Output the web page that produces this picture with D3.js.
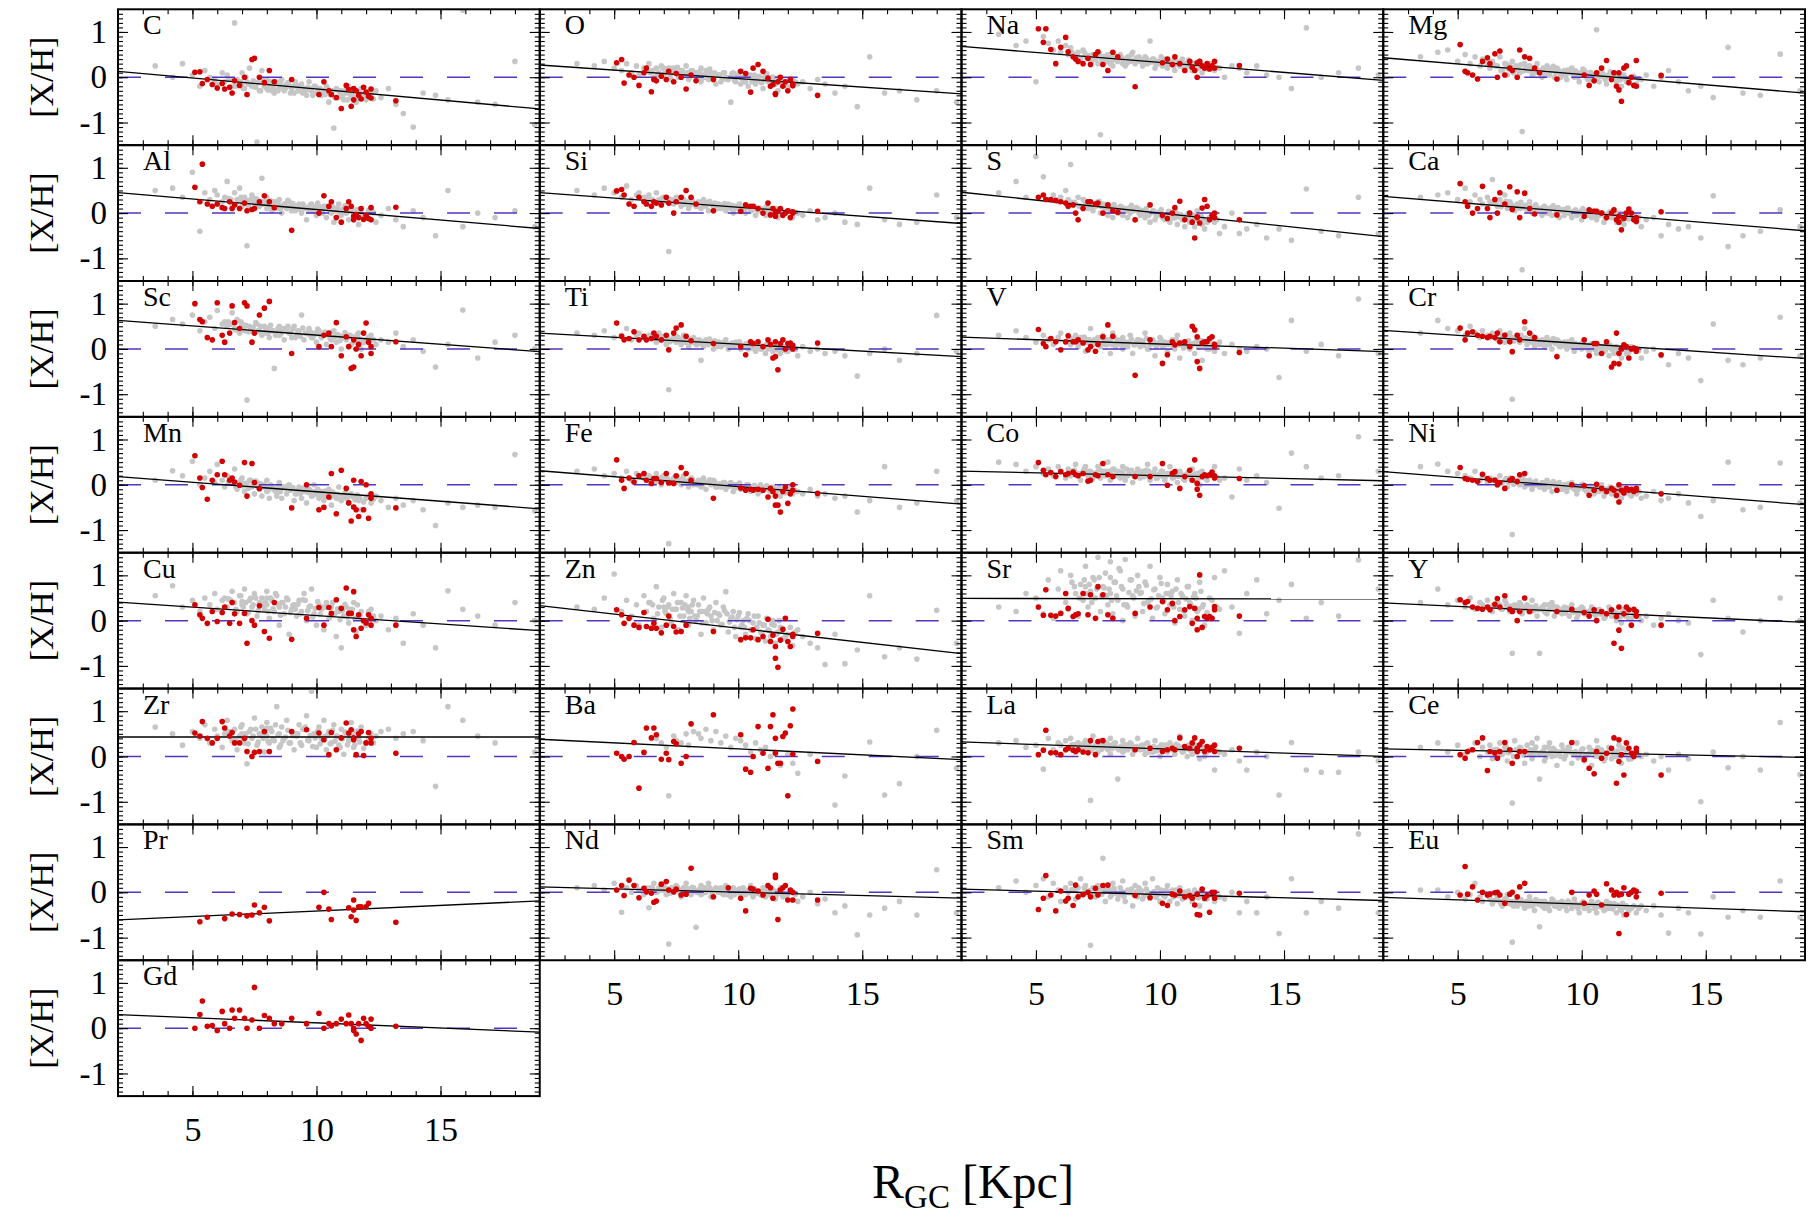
<!DOCTYPE html>
<html>
<head>
<meta charset="utf-8">
<script src="https://cdn.jsdelivr.net/npm/d3@7"></script>
<style>
  body { margin: 0; background: #fff; }
  svg text { font-family: "Liberation Serif", "Times New Roman", serif; fill: #000; }
</style>
</head>
<body>
<svg id="drawing_region"></svg>
<script>
// ---- data ---------------------------------------------------------------
const ELEMENTS = ["C","O","Na","Mg","Al","Si","S","Ca","Sc","Ti","V","Cr","Mn","Fe","Co","Ni",
                  "Cu","Zn","Sr","Y","Zr","Ba","La","Ce","Pr","Nd","Sm","Eu","Gd"];

// linear gradient fit:  [X/H] = INTERCEPT + SLOPE * R_GC
const SLOPE = [-0.0488,-0.0376,-0.0441,-0.0459,-0.0465,-0.0400,-0.0576,-0.0447,-0.0406,-0.0306,
               -0.0188,-0.0365,-0.0418,-0.0435,-0.0124,-0.0429,-0.0371,-0.0624,-0.0006,-0.0253,
               0.0000,-0.0265,-0.0188,-0.0112,0.0247,-0.0147,-0.0147,-0.0188,-0.0229];
const INTERCEPT = [0.228,0.345,0.768,0.522,0.543,0.530,0.575,0.459,0.711,0.411,
                   0.298,0.483,0.264,0.397,0.325,0.376,0.484,0.455,0.491,0.441,
                   0.430,0.433,0.358,0.192,-0.659,0.149,0.099,-0.072,0.346];

const X_TICKS = [5, 10, 15];
const Y_TICKS = [-1, 0, 1];

// literature sample (grey), galactocentric radius in kpc
const GRAY_R = [3.5,4.2,4.6,5.0,5.3,5.5,5.7,5.9,6.0,6.2,
  6.3,6.4,6.6,6.7,6.8,6.9,7.0,7.1,7.2,7.3,
  7.4,7.5,7.6,7.7,7.8,7.9,8.0,8.0,8.1,8.2,
  8.3,8.4,8.5,8.5,8.6,8.7,8.8,8.9,9.0,9.1,
  9.2,9.3,9.4,9.5,9.6,9.7,9.8,9.9,10.0,10.1,
  10.2,10.3,10.4,10.5,10.6,10.7,10.8,10.9,11.0,11.1,
  11.2,11.3,11.4,11.5,11.6,11.7,11.8,12.0,12.2,12.4,
  12.6,12.9,13.2,13.5,13.9,14.3,14.8,15.3,15.9,16.5,
  17.2,18.0,18.8,7.35,7.85,8.35,8.65,9.15,9.55,10.25];

// literature sample, densely populated core of the disc
const CORE_R = [6.55,6.75,6.95,7.05,7.15,7.25,7.45,7.55,7.65,7.75,
  7.95,8.05,8.15,8.25,8.45,8.55,8.75,8.85,8.95,9.05,
  9.25,9.35,9.45,9.65,9.75,9.85,9.95,10.05,10.15,10.35,
  10.45,10.55,10.65,10.75,10.85,10.95,11.05,11.15,11.25,11.35,
  11.45,11.55,11.65,11.75,11.9,12.1,12.3,6.45,7.0,8.0];

// this work (red), galactocentric radius in kpc
const RED_R = [5.1,5.3,5.4,5.6,5.8,6.0,6.2,6.3,6.5,6.6,6.7,
  6.9,7.1,7.2,7.4,7.5,7.7,7.9,8.1,8.3,8.6,9.0,
  9.6,10.1,10.3,10.5,10.6,10.8,11.0,11.2,11.3,11.4,11.5,
  11.5,11.6,11.7,11.8,11.9,12.0,12.1,12.2,12.2,12.9,13.2];

const grayC = [0.25,0,0.3,0.05,-0.2,0.15,0,-0.05,-0.15,0.1,
  -0.1,0.05,-0.2,1.2,-0.05,-0.15,0.1,-0.25,-0.1,0.2,
  -0.2,-0.1,-1.43,-0.3,0.15,-0.2,-0.25,-0.05,-0.15,-0.3,
  -0.35,-0.1,-0.2,-0.25,-0.05,-0.3,-0.15,-0.2,-0.25,-0.35,
  -0.2,-0.3,-0.15,-0.25,-0.4,-0.1,-0.3,-0.2,-0.35,-0.25,
  -0.4,-0.3,-0.2,-0.55,-0.35,-1.12,-0.25,-0.45,-0.3,-0.5,
  -0.35,-0.2,-0.45,-0.3,-0.55,-0.4,-0.25,-0.5,-0.35,-0.3,
  -0.45,-0.25,-0.6,-0.8,-1.1,-0.35,-0.4,-0.5,1.48,-0.55,
  -0.6,0.35,-1.05,-0.15,-0.05,-0.3,-0.2,-0.1,-0.3,-0.35];
const grayO = [0.3,0.25,0.35,0.2,0.15,0.3,0.1,0.25,0.05,0.2,
  0.15,0.3,0,0.2,0.1,0.25,0.05,0.15,0.2,-0.05,
  0.1,0.2,0,0.15,0.05,0.25,0.1,-0.05,0.15,0.05,
  0.1,0,0.2,-0.1,0.05,0.15,-0.05,0.1,0,-0.15,
  0.05,-0.1,0.1,0,-0.05,-0.55,0.1,-0.1,0.05,-0.15,
  0,-0.1,-0.2,0.05,-0.05,-0.15,0,-0.1,-0.25,0.05,
  -0.1,-0.2,0,-0.15,-0.3,-0.05,-0.1,-0.2,-0.05,-0.15,
  -0.1,-0.25,-0.05,-0.15,-0.35,-0.2,-0.65,0.45,-0.35,-0.3,
  -0.5,-0.3,-0.55,0.2,0.05,0.1,0,0.05,-0.05,-0.1];
const grayNa = [0.95,0.7,0.8,-0.1,0.9,0.75,0.6,0.8,0.55,0.7,
  0.5,0.65,0.45,0.55,0.4,0.6,0.5,0.45,0.35,0.5,
  0.4,0.3,-1.27,0.45,0.35,0.5,0.3,0.45,0.25,0.4,
  0.35,0.5,0.3,0.4,0.25,0.45,0.35,0.55,0.3,0.4,
  0.35,0.25,0.45,0.3,0.8,0.4,0.2,0.35,0.3,0.25,
  0.4,0.2,0.3,0.35,0.15,0.3,0.25,0.4,0.2,0.3,
  0.25,0.15,0.3,0.2,0.35,0.1,0.25,0.3,0.15,0.2,
  0,0.25,0.2,0.1,0.25,0.05,0,-0.25,1.09,0,
  0.1,0.2,0.05,0.45,0.35,0.4,0.3,0.45,0.35,0.3];
const grayMg = [0.45,0.55,0.6,0.35,0.5,0.3,0.45,0.25,0.4,0.3,
  0.2,0.35,0.25,0.45,0.15,0.3,0.05,0.25,0.35,0.15,
  0.2,0.1,-1.2,0.3,0.15,0.25,0.05,0.2,0.1,0.3,
  0.15,0,0.2,0.1,0.25,0.05,0.15,0,0.2,0.1,
  0.05,0.15,-0.05,0.1,0.2,0,0.1,-0.1,0.05,0.15,
  0,0.1,-0.05,0.05,1.05,-0.1,0.1,0,-0.15,0.05,
  -0.05,0.1,-0.1,0,-0.2,0.05,-0.1,0,-0.15,-0.05,
  0.05,-0.2,0,0.15,-0.1,-0.3,-0.2,-0.45,0.66,-0.35,
  -0.4,0.51,-0.3,0.25,0.15,0.1,0.2,0,0.1,-0.05];
const grayAl = [0.5,0.55,0.35,0.9,-0.4,0.45,0.3,0.5,0.4,0.25,
  0.35,0.7,0.2,0.45,0.3,0.55,0.15,0.35,-0.72,0.25,
  0.4,0.2,0.3,0.15,0.77,0.25,0.1,0.35,0.2,0.05,
  0.25,0.1,0.3,0.15,0,0.2,0.1,0.25,0.05,0.15,
  0.1,0.2,0,0.15,-0.15,0.05,0.2,0.1,-0.05,0.15,
  0.05,0.15,-0.1,0.1,0,-0.2,0.05,0.2,-0.05,0.1,
  0,-0.15,0.1,-0.05,0.05,-0.25,0,-0.1,0.05,-0.2,
  -0.05,0.1,-0.15,-0.3,0.05,-0.1,-0.5,0.5,-0.3,0,
  -0.1,0.05,-0.3,0.3,0.2,0.25,0.15,0.05,0.1,0];
const graySi = [0.5,0.4,0.55,0.45,0.35,0.6,0.3,0.4,0.45,0.35,
  0.3,0.4,0.25,0.45,0.3,0.2,0.35,0.25,-0.85,0.3,
  0.2,0.35,0.25,0.15,0.3,0.2,0.25,0.1,0.3,0.2,
  0.15,0.25,0.1,0.2,0.3,0.15,0.05,0.2,0.15,0.1,
  0.2,0.1,0.15,0.05,0.2,0.1,0,0.15,0.1,0.05,
  0.1,0,0.15,0.05,0.1,-0.05,0.05,0.1,0,-0.05,
  0.05,-0.05,0,0.1,-0.1,0,-0.05,0.05,-0.1,0,
  -0.05,0.05,-0.15,-0.1,0,-0.2,-0.25,0.55,-0.15,-0.25,
  -0.2,0.4,-0.1,0.25,0.2,0.15,0.25,0.1,0.15,0.05];
const grayS = [0.45,0.7,0.35,1.25,0.8,0.3,0.4,0.25,0.35,0.5,
  0.3,1.07,0.2,0.35,0.15,0.3,0.25,0.1,0.2,0.05,
  0.15,0.25,0,0.2,0.1,-0.05,0.15,0.05,-0.1,0.1,
  0,0.15,-0.05,0.05,0.1,-0.1,0,0.05,-0.15,0.1,
  -0.05,0.05,-0.1,0,-0.2,0.05,-0.15,-0.05,0,-0.1,
  -0.15,-0.05,-0.2,0,-0.1,-0.25,-0.05,-0.15,-0.3,-0.1,
  -0.2,-0.1,-0.3,0.05,-0.15,-0.25,-0.35,-0.1,-0.2,-0.45,
  -0.3,0,-0.45,-0.35,-0.25,-0.55,-0.35,-0.6,0.53,-0.4,
  -0.5,0.35,-0.45,0.2,0.1,0,0.05,0,-0.05,-0.1];
const grayCa = [0.35,0.4,0.45,0.3,0.55,0.25,0.4,0.3,0.2,0.35,
  0.25,0.74,0.15,0.3,0.2,0.4,0.1,0.25,0.15,0.05,
  0.2,0.1,-1.25,0.15,0.05,0.25,0.1,0,0.15,0.05,
  0.1,-0.05,0.15,0,0.1,0.05,-0.05,0.1,0,-0.1,
  0.05,-0.05,0.1,0,-0.1,0.05,-0.05,0,-0.15,0.05,
  -0.05,0,-0.1,0.05,-0.15,-0.05,0,-0.2,-0.1,0,
  -0.1,-0.05,-0.2,0,-0.15,-0.25,-0.1,-0.05,-0.2,-0.3,
  -0.15,-0.1,-0.5,-0.25,-0.35,-0.3,-0.55,0.38,-0.74,-0.5,
  -0.4,0.07,-0.3,0.15,0.1,0.05,0,0.05,0,-0.05];
const graySc = [0.5,0.65,0.55,0.75,0.4,0.6,0.7,0.45,0.85,0.55,
  0.6,0.5,0.8,0.45,0.65,0.35,0.55,0.4,-1.13,0.5,
  0.45,0.35,0.55,0.4,0.3,0.5,0.35,0.45,0.25,0.4,
  -0.43,0.35,0.5,0.3,0.4,0.2,0.45,0.35,0.25,0.5,
  0.3,0.4,0.75,0.2,0.35,0.45,0.25,0.3,0.15,0.4,
  0.25,0.35,0.1,0.3,0.2,0.4,0.15,0.3,0,0.25,
  0.2,0.3,0.1,0.25,0.15,0.35,0,0.2,0.3,0.1,
  0.2,0.15,0.35,0.05,0.2,-0.05,-0.4,0.1,0.86,-0.2,
  0.15,0.3,0,0.4,0.35,0.3,0.45,0.25,0.35,0.3];
const grayTi = [0.35,0.3,0.4,0.25,0.3,0.45,0.2,0.3,0.35,0.25,
  0.2,0.3,0.25,0.15,0.35,0.2,0.25,0.1,-0.9,0.2,
  0.25,0.15,0.2,0.1,0.3,0.15,0.2,0.05,0.15,0.25,
  0.1,0.2,-0.25,0.15,0.05,0.2,0.1,0.15,0,0.1,
  0.15,0.05,0.1,0.2,0,0.1,0.05,0.15,0.1,0,
  0.05,0.1,0,0.15,0.05,-0.05,0.1,0,0.05,-0.1,
  0,0.05,-0.05,0.1,0,-0.1,0.05,-0.05,0,-0.15,
  0.05,-0.05,0,-0.1,-0.05,-0.15,-0.6,-0.1,0,-0.25,
  -0.1,0.74,-0.05,0.2,0.15,0.1,0.15,0.05,0.1,0.05];
const grayV = [0.3,0.4,0.25,0.15,0.3,0.2,0.1,0.25,0.35,0.15,
  0.2,0.1,0.3,0.05,0.25,0.15,-0.05,0.2,0.45,0.1,
  0.15,0.25,0.05,0.3,0.1,0.2,-0.1,0.15,0.35,0.05,
  0.2,0.1,0,0.25,0.15,0.05,0.3,-0.1,0.1,0.2,
  0.05,0.15,0.35,0,0.1,0.2,-0.15,0.1,0.25,0.05,
  0.15,-0.05,0.1,0.2,0,0.3,-0.2,0.1,0.05,0.15,
  0,0.1,-0.1,0.2,0.05,-0.25,0.1,0,-0.05,0.15,
  -0.1,0.1,0,-0.05,0.05,0,-0.63,0.63,-0.05,0.1,
  -0.15,1.1,-0.1,0.2,0.1,0.15,0.05,0.2,0,0.1];
const grayCr = [0.35,0.63,0.45,0.4,0.3,0.5,0.35,0.25,0.4,0.3,
  0.25,0.35,0.2,0.4,0.3,0.15,0.25,0.35,-1.11,0.2,
  0.3,0.15,0.25,0.45,0.1,0.2,0.3,0.15,0.05,0.2,
  0.1,0.2,0.15,0.05,0.25,0.1,0,0.15,0.2,0.05,
  0.1,0.15,0,0.05,0.2,-0.05,0.1,0.05,0,0.15,
  0.05,-0.05,0.1,0,-0.1,0.05,0,-0.05,0.1,-0.15,
  0,-0.1,0.05,-0.05,-0.2,0,-0.1,0.05,-0.05,-0.2,
  -0.05,0,-0.15,-0.35,-0.1,-0.2,-0.7,0.55,-0.25,-0.35,
  -0.2,0.7,-0.15,0.25,0.2,0.15,0.1,0.05,0.1,0];
const grayMn = [0.1,0.31,0.2,0.52,0,0.15,0.3,0.05,0.45,0.1,
  -0.05,0.2,0.1,0.35,-0.1,0.05,0.15,-0.15,0,0.1,
  -0.05,-0.2,0.05,-0.1,-0.25,0,-0.15,0.1,-0.3,-0.05,
  -0.1,-0.25,0.05,-0.15,-0.3,-0.05,-0.2,0,-0.1,-0.35,
  -0.2,-0.05,-0.3,-0.15,-0.4,-0.1,-0.25,0,-0.2,-0.3,
  -0.15,-0.35,-0.25,-0.1,-0.45,-0.2,-0.3,-0.05,-0.35,-0.25,
  -0.3,-0.4,-0.2,-0.5,-0.25,-0.35,-0.55,-0.3,-0.4,-0.25,
  -0.35,-0.5,-0.3,-0.45,-0.35,-0.55,-0.9,-0.4,-0.5,-0.45,
  -0.5,0.67,-0.58,0.1,-0.05,-0.15,-0.05,-0.2,-0.1,-0.25];
const grayFe = [0.3,0.35,0.2,0.25,0.15,0.3,0.1,0.25,0.2,0.15,
  0.1,0.2,0.05,0.25,0.15,0,0.2,0.1,-1.3,0.05,
  0.15,0.05,0.1,0,0.2,0.05,0.1,-0.05,0.15,0,
  0.05,0.1,-0.05,0,0.15,-0.1,0.05,0,0.1,-0.05,
  0,-0.05,0.05,-0.1,0,0.05,-0.15,0,-0.05,-0.1,
  -0.05,-0.1,0,-0.15,-0.05,-0.1,-0.2,0,-0.1,-0.05,
  -0.1,-0.15,-0.05,-0.2,-0.1,-0.25,-0.15,-0.1,-0.2,-0.15,
  -0.2,-0.1,-0.25,-0.2,-0.3,-0.25,-0.6,-0.35,0.4,-0.5,
  -0.4,0.3,-0.35,0.1,0.05,0,0.05,-0.05,0,-0.05];
const grayCo = [0.5,0.45,0.3,0.4,0.25,0.35,0.2,0.4,0.3,0.15,
  0.35,0.2,0.45,0.25,0.1,0.3,0.4,0.2,0.3,0.15,
  0.25,0.4,0.15,0.3,0.2,0.5,0.1,0.25,0.35,0.2,
  0.3,0.15,0.25,0.4,0.1,0.2,0.3,0.05,0.25,0.35,
  0.15,0.3,0.2,0.45,0.1,0.25,0.35,0.15,0.2,0.3,
  0.1,0.25,0.4,0.15,0.2,0.05,0.3,0.2,0.1,0.25,
  0.2,0.35,0.1,0.25,0,0.3,0.15,0.2,0.4,0.1,
  0.15,-0.27,0.35,0.1,0.2,0.05,-0.52,0.7,0.4,0.15,
  0.2,1.06,0.3,0.25,0.3,0.2,0.35,0.25,0.3,0.2];
const grayNi = [0.4,0.46,0.3,0.25,0.2,0.15,0.3,0.1,0.2,0.05,
  0.15,0.1,0,0.2,0.05,0.1,-0.05,0.15,-1.1,0.05,
  0.1,0,0.15,-0.05,0.05,0.1,0,-0.1,0.05,0,
  -0.05,0.05,-0.1,0,0.1,-0.05,-0.15,0,-0.05,0.05,
  -0.1,0,-0.15,-0.05,0.05,-0.1,-0.2,-0.05,0,-0.1,
  -0.15,-0.05,-0.1,-0.2,-0.05,-0.15,0,-0.25,-0.1,-0.15,
  -0.2,-0.1,-0.25,-0.15,-0.3,-0.2,-0.1,-0.25,-0.2,-0.3,
  -0.25,-0.15,-0.35,-0.3,-0.2,-0.4,-0.7,-0.35,0.5,-0.55,
  -0.5,0.48,-0.4,0.05,0,-0.05,0,-0.1,-0.05,-0.1];
const grayCu = [0.55,0.77,0.3,0.45,0.2,0.5,0.35,0.6,0.25,0.45,
  0.5,0.3,0.65,0.4,0.2,0.55,0.35,0.7,0.15,0.45,
  0.3,0.6,0.1,0.4,0.5,0.25,0.65,0.35,0.05,0.45,
  0.2,0.55,0.3,-0.1,0.4,0.15,0.5,-0.3,0.25,0.35,
  0.1,0.45,0.2,0.6,0,0.3,0.7,0.15,-0.1,0.35,
  0.25,-0.2,0.4,0.05,0.3,0.15,-0.35,0.2,-0.6,0.1,
  0.3,-0.05,0.15,0.4,-0.25,0.05,0.2,-0.1,0.25,0,
  0.1,-0.2,0.05,-0.5,0.15,-0.1,-0.6,0.66,0.25,0.1,
  -0.1,0.4,0,0.5,0.35,0.6,0.4,0.25,0.45,0.3];
const grayZn = [0.3,0.25,0.5,1.03,0.2,0.45,0.1,0.35,-0.1,0.55,
  0.2,0.4,0.05,0.75,0.3,-0.15,0.5,0.15,0.35,-0.05,
  0.6,0.25,-0.2,0.4,0.1,0.55,-0.1,0.3,0.2,0.45,
  0,0.35,-0.3,0.2,0.5,-0.05,0.25,0.1,-0.2,0.4,
  0.15,-0.1,0.3,0.64,-0.25,0.05,0.2,-0.35,0.1,-0.15,
  0,-0.3,0.15,-0.2,-0.05,-0.4,0.1,-0.25,-0.1,-0.45,
  -0.2,-0.35,0,-0.5,-0.25,-0.15,-0.4,-0.3,-0.55,-0.2,
  -0.35,-0.5,-0.6,-0.97,-0.3,-0.95,-0.65,0.55,-0.8,-0.6,
  -0.85,0.23,-0.5,0.25,0.35,0.1,0.2,0,0.15,-0.15];
const graySr = [0.3,0.2,0.6,0.5,0.15,0.9,0.05,0.7,1.1,0.4,
  0.25,1,0.6,0.1,0.8,0.45,1.2,0.3,0.65,0.95,
  0.5,1.4,0.2,0.75,1.05,0.35,0.6,1.3,0.15,0.85,
  0.45,1.1,0,0.7,1.35,0.3,0.9,0.55,0.1,1,
  0.6,0.2,0.85,0.4,1.2,0.05,0.7,0.3,0.95,0.5,
  0.15,0.8,0.35,0.65,-0.05,0.9,0.25,0.55,0.1,0.75,
  0.4,0,0.6,0.2,0.85,0.3,-0.1,0.5,0.95,0.25,
  1.1,0.3,-0.28,0.6,0.9,0.15,0.45,0.8,0.05,0.4,
  0.1,1.34,0.7,0.9,0.55,1.15,0.35,0.75,0.45,0.6];
const grayY = [0.4,0.7,0.35,0.45,0.3,0.5,0.25,0.4,0.35,0.45,
  0.3,0.2,0.4,0.35,0.25,0.45,0.3,0.2,-0.72,0.35,
  0.25,0.4,0.15,0.3,0.35,0.2,0.45,0.25,0.3,0.1,
  -0.72,0.3,0.2,0.35,0.15,0.25,0.4,0.1,0.3,0.2,
  0.15,0.3,0.25,0.1,0.35,0.2,0.05,0.25,0.3,0.15,
  0.2,0.1,0.3,0.15,0,0.25,0.2,0.05,0.15,0.3,
  0.1,0.2,0,0.15,-0.05,0.25,0.1,0.05,0.2,0,
  0.1,-0.1,0.05,0.15,0,-0.05,-0.75,0.45,0.05,-0.25,
  0,0.5,0,0.3,0.2,0.25,0.35,0.2,0.25,0.15];
const grayZr = [0.65,0.5,0.25,0.55,0.4,0.7,0.3,0.6,0.45,0.2,
  0.5,0.8,0.35,0.6,0.15,0.45,0.7,0.3,-0.16,0.55,
  0.4,0.85,0.25,0.5,0.65,0.1,0.45,0.75,0.3,0.55,
  0.35,1.1,0.5,0.2,0.65,0.4,0.8,0.3,0.55,0.15,
  0.45,0.7,0.25,0.6,0.9,0.35,1.44,0.5,0.2,0.65,
  0.4,0.8,0.15,0.55,0.3,0.7,0.45,0.25,0.6,0.05,
  0.5,0.35,0.75,0.2,0.55,0.4,0.65,0.3,0.5,0.45,
  0.55,0.6,0.4,0.5,0.55,0.35,-0.66,1.1,0.8,0.45,
  0.3,1.45,0.1,0.6,0.4,0.7,0.35,0.5,0.65,0.4];
const grayBa = [null,null,null,null,null,null,null,null,null,null,
  null,null,null,0.4,null,0.3,null,0.2,-0.87,null,
  0.45,0.35,null,0.3,null,0.5,null,0.25,null,0.55,
  null,0.5,null,0.4,null,0.6,null,0.35,null,0.55,
  null,0.3,null,0.45,null,0.2,null,0.4,null,0.35,
  null,0.25,null,0.1,null,0.3,null,0.15,null,0.2,
  null,0,null,0.1,null,-0.2,null,0.05,-0.15,-0.37,
  null,0.05,-0.1,null,-1.07,-0.43,null,0.32,-0.85,-0.6,
  0,0.58,-0.26,null,null,null,null,null,null,null];
const grayLa = [0.3,0.35,0.2,0.25,-0.28,0.4,0.15,0.3,0.25,0.35,
  0.2,0.4,0.1,0.3,0.25,0.15,0.35,0.2,-0.97,0.45,
  0.25,0.1,0.35,0.2,0.3,0.15,0.4,0.05,0.25,0.3,
  -0.5,0.2,0.35,0.1,0.25,0.15,0.3,0.05,0.2,0.4,
  0.15,0.25,0.05,0.3,0.2,0.1,0.35,0.15,0,0.25,
  0.2,0.1,0.3,0.15,0.05,0.25,0.45,0.1,0.2,0,
  0.15,0.05,0.25,0.1,-0.05,0.2,0,0.15,-0.3,0.1,
  0.05,0.15,-0.1,-0.3,0.1,0,-0.85,0.31,-0.3,-0.35,
  -0.35,0.1,-0.1,0.2,0.3,0.15,0.25,0.2,0.1,0.25];
const grayCe = [0.2,0.3,0.1,0.25,0.05,0.15,0.3,0,0.2,0.1,
  0.25,-0.05,0.15,0.3,0.05,0.2,-0.1,0.1,-1.03,0.35,
  0,0.2,0.1,-0.15,0.25,0.05,0.3,-0.05,0.15,0.4,
  -0.5,0.1,0.2,-0.1,0.05,0.3,0,0.15,-0.2,0.1,
  0.25,-0.05,0.1,0.2,-0.15,0.05,0.3,0,0.15,-0.1,
  0.05,0.2,-0.2,0.1,0.35,0,0.15,-0.1,0.05,0.2,
  -0.05,0.1,0,0.25,-0.15,0.05,0.15,-0.05,0.1,0,
  0.05,-0.1,0,-0.3,0.05,-0.05,-1,0.1,-0.25,0,
  -0.3,0.75,-0.4,0.15,0.1,0.05,0.2,0,0.1,0.05];
const grayPr = [];
const grayNd = [0.1,0.15,0.05,0.2,-0.44,0.1,0,0.15,0.05,-0.05,
  0.1,-0.34,0.2,0,0.1,0.05,0.15,-0.05,-1.14,0.1,
  0,0.15,0.05,-0.1,0.1,0.2,0,0.05,-0.05,0.1,
  -0.77,0.05,0.15,-0.05,0.1,0,0.2,-0.1,0.05,0.1,
  0,0.1,-0.05,0.15,0.05,-0.1,0.1,0,0.05,-0.05,
  0.1,-0.05,0,0.15,-0.1,0.05,0,-0.05,0.1,-0.1,
  0,-0.05,0.05,-0.15,0,0.1,-0.1,-0.05,0,-0.2,
  -0.1,0,-0.25,-0.15,-0.45,-0.3,-0.94,-0.5,-0.35,-0.2,
  -0.5,0.5,-0.45,0.1,0.05,0,0.1,0.05,-0.05,0];
const graySm = [0.1,0.25,0,0.15,0.3,-0.1,0.2,0.05,-0.2,0.1,
  0,0.2,-0.15,0.1,0.3,-0.05,0.15,0,-1.17,0.1,
  -0.1,0.15,0,0.75,-0.2,0.1,0.05,-0.1,0.2,0,
  -0.15,0.1,-0.05,0.25,-0.2,0.05,0,-0.3,0.15,-0.1,
  0.05,-0.15,0.2,0,-0.1,0.3,-0.05,0.1,-0.2,0,
  -0.1,0.15,-0.2,0.05,-0.05,-0.25,0.1,-0.15,0,-0.1,
  -0.05,-0.2,0.05,-0.1,-0.3,0,-0.15,-0.05,-0.2,-0.1,
  -0.15,0,-0.45,-0.2,-0.45,-0.1,-0.91,0.3,-0.45,-0.2,
  -0.35,1.29,-0.45,0.05,0.1,-0.05,0,0.1,-0.05,0.05];
const grayEu = [0.05,0.05,-0.1,0,-0.15,-0.05,0.2,-0.1,-0.2,-0.05,
  -0.15,-0.25,-0.1,-0.2,-0.3,-0.15,-0.05,-0.25,-1.1,-0.2,
  -0.3,-0.15,-0.25,-0.35,-0.2,-0.1,-0.3,-0.25,-0.4,-0.2,
  -0.76,-0.3,-0.2,-0.35,-0.25,-0.4,-0.15,-0.3,-0.25,-0.35,
  -0.2,-0.3,-0.4,-0.25,-0.35,-0.15,-0.3,-0.45,-0.25,-0.35,
  -0.3,-0.4,-0.2,-0.35,-0.45,-0.25,-0.3,-0.4,-0.2,-0.35,
  -0.35,-0.25,-0.45,-0.3,-0.4,-0.5,-0.3,-0.35,-0.45,-0.3,
  -0.4,-0.3,-0.5,-0.9,-0.35,-0.45,-0.92,-0.1,-0.55,-0.4,
  -0.55,0.25,-0.55,-0.25,-0.3,-0.2,-0.35,-0.3,-0.25,-0.3];
const grayGd = [];

// core of the grey cloud, one value per CORE_R entry
const coreC = [-0.05,-0.2,-0.1,-0.25,0,-0.15,-0.08,-0.22,-0.12,-0.3,
  -0.15,-0.28,-0.1,-0.22,-0.3,-0.15,-0.25,-0.12,-0.35,-0.2,
  -0.3,-0.18,-0.35,-0.22,-0.28,-0.4,-0.2,-0.32,-0.25,-0.38,
  -0.25,-0.38,-0.3,-0.45,-0.28,-0.35,-0.42,-0.3,-0.5,-0.36,
  -0.4,-0.3,-0.45,-0.35,-0.42,-0.32,-0.48,-0.05,-0.18,-0.22];
const coreO = [0.15,0.05,0.2,0.1,0.18,0.02,0.12,0.22,0.08,0.14,
  0.1,0,0.15,0.05,0.12,-0.02,0.08,0.18,0.03,0.1,
  0.05,-0.05,0.1,0,0.08,-0.08,0.04,0.12,-0.02,0.06,
  0,-0.1,0.05,-0.05,0.02,-0.12,-0.02,0.08,-0.06,0,
  -0.05,-0.12,0,-0.08,-0.15,-0.04,-0.1,0.1,0.2,0.05];
const coreNa = [0.5,0.4,0.55,0.42,0.48,0.35,0.45,0.52,0.38,0.46,
  0.42,0.35,0.48,0.38,0.44,0.3,0.4,0.5,0.36,0.43,
  0.38,0.3,0.42,0.33,0.4,0.28,0.35,0.45,0.32,0.37,
  0.32,0.25,0.36,0.28,0.34,0.22,0.3,0.38,0.26,0.31,
  0.27,0.2,0.3,0.24,0.18,0.28,0.22,0.55,0.48,0.4];
const coreMg = [0.25,0.15,0.3,0.18,0.22,0.1,0.2,0.28,0.14,0.21,
  0.18,0.1,0.22,0.12,0.2,0.06,0.15,0.24,0.1,0.17,
  0.12,0.04,0.16,0.08,0.14,0,0.1,0.18,0.05,0.11,
  0.06,-0.02,0.1,0.02,0.08,-0.05,0.04,0.12,0,0.05,
  0,-0.06,0.04,-0.02,-0.08,0.02,-0.04,0.28,0.22,0.16];
const coreAl = [0.3,0.2,0.35,0.22,0.28,0.15,0.25,0.32,0.18,0.26,
  0.22,0.14,0.27,0.17,0.24,0.1,0.2,0.28,0.14,0.21,
  0.16,0.08,0.2,0.11,0.18,0.04,0.14,0.22,0.08,0.15,
  0.1,0.02,0.14,0.05,0.12,-0.02,0.08,0.16,0.03,0.09,
  0.04,-0.03,0.08,0,-0.06,0.06,0.01,0.32,0.26,0.2];
const coreSi = [0.3,0.24,0.33,0.26,0.29,0.21,0.27,0.32,0.23,0.28,
  0.24,0.18,0.27,0.2,0.23,0.16,0.21,0.26,0.18,0.22,
  0.18,0.12,0.21,0.14,0.17,0.1,0.15,0.2,0.12,0.16,
  0.12,0.06,0.15,0.08,0.11,0.04,0.09,0.14,0.06,0.1,
  0.06,0.01,0.09,0.03,0,0.05,0.02,0.3,0.27,0.22];
const coreS = [0.24,0.15,0.28,0.18,0.22,0.12,0.2,0.26,0.14,0.19,
  0.15,0.07,0.19,0.1,0.14,0.03,0.11,0.17,0.06,0.12,
  0.06,-0.02,0.1,0.01,0.05,-0.06,0.02,0.08,-0.03,0.04,
  -0.03,-0.11,0.01,-0.08,-0.04,-0.14,-0.06,0,-0.1,-0.05,
  -0.1,-0.17,-0.06,-0.13,-0.2,-0.09,-0.15,0.24,0.22,0.14];
const coreCa = [0.22,0.14,0.26,0.16,0.2,0.1,0.18,0.24,0.12,0.17,
  0.14,0.07,0.18,0.1,0.13,0.04,0.11,0.16,0.06,0.12,
  0.08,0,0.11,0.03,0.07,-0.03,0.04,0.1,0,0.05,
  0.01,-0.06,0.04,-0.03,0,-0.09,-0.02,0.03,-0.07,-0.01,
  -0.04,-0.1,-0.01,-0.07,-0.13,-0.03,-0.09,0.22,0.2,0.12];
const coreSc = [0.55,0.42,0.6,0.45,0.52,0.38,0.48,0.58,0.4,0.5,
  0.46,0.35,0.52,0.4,0.45,0.32,0.42,0.5,0.36,0.44,
  0.4,0.28,0.46,0.33,0.38,0.25,0.35,0.44,0.3,0.37,
  0.33,0.22,0.38,0.27,0.32,0.18,0.28,0.36,0.24,0.3,
  0.27,0.18,0.32,0.22,0.14,0.26,0.2,0.6,0.5,0.42];
const coreTi = [0.25,0.18,0.28,0.2,0.24,0.16,0.22,0.27,0.19,0.23,
  0.2,0.13,0.23,0.15,0.19,0.11,0.17,0.22,0.14,0.18,
  0.14,0.08,0.17,0.1,0.13,0.06,0.11,0.16,0.08,0.12,
  0.08,0.02,0.11,0.04,0.07,0,0.05,0.1,0.02,0.06,
  0.04,-0.02,0.07,0,-0.04,0.03,-0.01,0.26,0.24,0.18];
const coreV = [0.22,0.12,0.26,0.15,0.2,0.08,0.17,0.24,0.1,0.18,
  0.2,0.1,0.25,0.13,0.18,0.06,0.15,0.22,0.09,0.16,
  0.18,0.08,0.23,0.11,0.16,0.04,0.13,0.2,0.07,0.14,
  0.16,0.06,0.21,0.09,0.14,0.02,0.11,0.18,0.05,0.12,
  0.14,0.04,0.19,0.08,0,0.12,0.06,0.22,0.18,0.15];
const coreCr = [0.28,0.2,0.32,0.22,0.26,0.17,0.25,0.3,0.19,0.24,
  0.21,0.13,0.24,0.15,0.19,0.1,0.17,0.23,0.12,0.18,
  0.13,0.06,0.16,0.08,0.12,0.03,0.1,0.15,0.05,0.11,
  0.06,-0.01,0.09,0.01,0.05,-0.04,0.03,0.08,-0.02,0.04,
  0.01,-0.05,0.04,-0.02,-0.08,0.02,-0.04,0.3,0.26,0.2];
const coreMn = [0.05,-0.05,0.1,-0.02,0.03,-0.08,0,0.08,-0.06,0.02,
  -0.04,-0.12,0,-0.09,-0.05,-0.15,-0.07,-0.02,-0.12,-0.06,
  -0.12,-0.2,-0.08,-0.17,-0.13,-0.24,-0.15,-0.1,-0.2,-0.14,
  -0.2,-0.28,-0.16,-0.25,-0.21,-0.32,-0.23,-0.18,-0.28,-0.22,
  -0.26,-0.33,-0.22,-0.3,-0.38,-0.25,-0.32,0.05,0.02,-0.08];
const coreFe = [0.15,0.08,0.18,0.1,0.14,0.05,0.12,0.17,0.07,0.13,
  0.09,0.02,0.12,0.04,0.08,-0.01,0.06,0.11,0.01,0.07,
  0.02,-0.05,0.05,-0.03,0.01,-0.08,-0.01,0.04,-0.06,0,
  -0.04,-0.11,-0.01,-0.09,-0.05,-0.14,-0.07,-0.02,-0.12,-0.06,
  -0.09,-0.15,-0.06,-0.12,-0.18,-0.08,-0.13,0.16,0.12,0.08];
const coreCo = [0.32,0.22,0.36,0.25,0.3,0.18,0.27,0.34,0.2,0.28,
  0.3,0.2,0.34,0.23,0.28,0.16,0.25,0.32,0.19,0.26,
  0.28,0.18,0.32,0.21,0.26,0.14,0.23,0.3,0.17,0.24,
  0.26,0.16,0.3,0.19,0.24,0.12,0.21,0.28,0.15,0.22,
  0.24,0.14,0.28,0.18,0.1,0.22,0.16,0.3,0.28,0.26];
const coreNi = [0.11,0.04,0.14,0.06,0.1,0.01,0.08,0.13,0.03,0.09,
  0.05,-0.02,0.08,0,0.04,-0.05,0.02,0.07,-0.03,0.03,
  -0.01,-0.08,0.02,-0.06,-0.02,-0.11,-0.04,0.01,-0.09,-0.03,
  -0.07,-0.14,-0.04,-0.12,-0.08,-0.17,-0.1,-0.05,-0.15,-0.09,
  -0.11,-0.17,-0.08,-0.14,-0.2,-0.1,-0.15,0.12,0.09,0.04];
const coreCu = [0.45,0.25,0.55,0.3,0.4,0.18,0.35,0.5,0.22,0.38,
  0.4,0.2,0.5,0.26,0.36,0.12,0.3,0.46,0.18,0.34,
  0.36,0.15,0.46,0.22,0.32,0.08,0.27,0.42,0.14,0.3,
  0.3,0.1,0.4,0.16,0.26,0.02,0.22,0.36,0.08,0.25,
  0.25,0.05,0.35,0.12,-0.02,0.2,0.1,0.48,0.42,0.5];
const coreZn = [0.35,0.15,0.45,0.2,0.3,0.05,0.25,0.4,0.1,0.28,
  0.25,0.05,0.35,0.1,0.2,-0.05,0.15,0.3,0,0.18,
  0.12,-0.08,0.22,-0.03,0.08,-0.15,0.02,0.18,-0.1,0.05,
  0,-0.2,0.1,-0.15,-0.05,-0.28,-0.1,0.05,-0.22,-0.08,
  -0.1,-0.3,0,-0.22,-0.35,-0.15,-0.25,0.4,0.3,0.2];
const coreSr = [0.75,0.5,0.9,0.6,0.8,0.4,0.7,0.95,0.55,0.72,
  0.7,0.45,0.85,0.55,0.75,0.35,0.62,0.9,0.5,0.66,
  0.62,0.38,0.78,0.48,0.68,0.28,0.55,0.82,0.42,0.6,
  0.55,0.3,0.7,0.4,0.6,0.22,0.48,0.75,0.35,0.52,
  0.5,0.25,0.65,0.35,0.18,0.45,0.3,0.85,0.75,0.95];
const coreY = [0.34,0.26,0.38,0.28,0.32,0.22,0.3,0.36,0.25,0.31,
  0.3,0.22,0.33,0.24,0.28,0.18,0.26,0.32,0.21,0.27,
  0.25,0.17,0.28,0.19,0.23,0.13,0.21,0.27,0.16,0.22,
  0.2,0.12,0.23,0.14,0.18,0.08,0.16,0.22,0.11,0.17,
  0.16,0.08,0.19,0.11,0.04,0.14,0.09,0.34,0.3,0.26];
const coreZr = [0.55,0.35,0.65,0.4,0.5,0.28,0.45,0.6,0.32,0.48,
  0.52,0.33,0.62,0.38,0.48,0.25,0.43,0.58,0.3,0.46,
  0.5,0.3,0.6,0.36,0.46,0.22,0.41,0.56,0.28,0.44,
  0.48,0.28,0.58,0.34,0.44,0.2,0.39,0.54,0.26,0.42,
  0.46,0.26,0.56,0.32,0.18,0.4,0.3,0.55,0.5,0.62];
const coreBa = [];
const coreLa = [0.26,0.18,0.3,0.2,0.24,0.14,0.22,0.28,0.16,0.23,
  0.25,0.17,0.29,0.19,0.23,0.13,0.21,0.27,0.15,0.22,
  0.24,0.16,0.28,0.18,0.22,0.12,0.2,0.26,0.14,0.21,
  0.23,0.15,0.27,0.17,0.21,0.11,0.19,0.25,0.13,0.2,
  0.22,0.14,0.26,0.16,0.1,0.2,0.12,0.26,0.24,0.22];
const coreCe = [0.16,0.04,0.22,0.08,0.13,0,0.1,0.19,0.03,0.11,
  0.15,0.03,0.21,0.07,0.12,-0.02,0.09,0.18,0.02,0.1,
  0.14,0.02,0.2,0.06,0.11,-0.03,0.08,0.17,0.01,0.09,
  0.13,0.01,0.19,0.05,0.1,-0.04,0.07,0.16,0,0.08,
  0.12,0,0.18,0.04,-0.06,0.08,0.02,0.14,0.1,0.12];
const corePr = [];
const coreNd = [0.09,0.01,0.12,0.03,0.07,-0.02,0.05,0.11,0,0.06,
  0.08,0,0.11,0.02,0.06,-0.03,0.04,0.1,-0.01,0.05,
  0.06,-0.02,0.09,0,0.04,-0.05,0.02,0.08,-0.03,0.03,
  0.04,-0.04,0.07,-0.02,0.02,-0.07,0,0.06,-0.05,0.01,
  0.02,-0.06,0.05,-0.03,-0.08,0.01,-0.04,0.1,0.06,0.08];
const coreSm = [0.06,-0.05,0.1,-0.02,0.04,-0.08,0,0.08,-0.04,0.02,
  0.05,-0.06,0.09,-0.03,0.03,-0.09,-0.01,0.07,-0.05,0.01,
  0.03,-0.08,0.07,-0.05,0.01,-0.11,-0.03,0.05,-0.07,-0.01,
  0.01,-0.1,0.05,-0.07,-0.01,-0.13,-0.05,0.03,-0.09,-0.03,
  -0.01,-0.12,0.03,-0.08,-0.15,-0.04,-0.1,0.06,0.02,0.04];
const coreEu = [-0.18,-0.26,-0.14,-0.24,-0.2,-0.3,-0.22,-0.16,-0.28,-0.21,
  -0.2,-0.28,-0.16,-0.26,-0.22,-0.32,-0.24,-0.18,-0.3,-0.23,
  -0.23,-0.31,-0.19,-0.29,-0.25,-0.35,-0.27,-0.21,-0.33,-0.26,
  -0.26,-0.34,-0.22,-0.32,-0.28,-0.38,-0.3,-0.24,-0.36,-0.29,
  -0.28,-0.36,-0.24,-0.33,-0.4,-0.3,-0.35,-0.18,-0.22,-0.26];
const coreGd = [];

const redC = [0.11,0.12,-0.14,-0.05,-0.16,-0.24,-0.14,-0.26,-0.22,-0.35,-0.08,
  -0.18,0,-0.38,0.39,0.42,0,-0.12,0.15,-0.1,null,-0.05,
  null,-0.38,-0.1,-0.3,-0.38,-0.45,-0.69,-0.18,-0.27,-0.64,-0.25,
  -0.5,-0.3,-0.4,-0.48,-0.22,-0.33,-0.42,-0.26,-0.46,null,-0.52];
const redO = [0.32,0.39,-0.13,0.05,0,-0.18,0.1,0.2,-0.32,-0.05,-0.08,
  0.02,-0.05,0.13,-0.1,0.08,0,-0.26,0.05,-0.08,null,-0.05,
  null,0.13,0.08,-0.33,0.2,0.28,0.13,-0.02,-0.2,-0.16,-0.38,
  -0.36,-0.1,0,-0.2,-0.1,-0.3,-0.05,-0.19,-0.15,null,-0.4];
const redNa = [1.07,0.77,1.07,0.61,0.3,0.66,0.88,0.56,0.45,0.4,0.35,
  0.3,0.42,0.28,0.5,0.56,0.28,0.15,0.55,0.45,null,-0.21,
  null,0.32,0.4,0.28,0.45,0.3,0.15,0.35,0.22,0.15,0.32,
  0,0.35,0.25,0.2,0.3,0.18,0.25,0.35,0.2,null,0.26];
const redMg = [0.72,0.13,0.1,0.05,-0.04,0.35,0.43,0.3,0.52,0,0.58,
  0.05,0.2,0.15,0,0.6,0.45,0.42,0.2,0.1,null,-0.04,
  null,0.05,-0.18,-0.08,0.1,0.2,0.37,-0.05,0.1,-0.2,-0.28,
  0.1,-0.53,0.2,0.25,-0.12,0,-0.18,0.37,-0.2,null,0.04];
const redAl = [0.57,0.25,1.08,0.2,0.15,0.2,0.12,0.1,0.25,0.1,0.18,
  0.1,0.22,0.05,0.08,0.1,0.25,0.38,0.25,0.12,null,-0.38,
  null,0,0.38,0.15,0.25,-0.1,-0.2,0.1,0.25,0.15,-0.07,
  -0.15,-0.03,-0.1,0.1,-0.14,-0.05,-0.12,0.12,-0.15,null,0.13];
const redSi = [0.49,0.52,0.4,0.2,0.15,0.35,0.25,0.2,0.15,0.25,0.22,
  0.18,0.35,0.22,0,0.25,0.35,0.5,0.35,0.2,null,0.05,
  null,0.04,0.18,0.15,0.15,0.1,0,0.22,-0.04,0.1,-0.07,
  0,0.04,0.1,-0.05,0,0.05,-0.1,0,0.03,null,0.04];
const redS = [0.35,0.4,0.3,0.3,0.28,0.25,0.22,0.15,0.18,0,-0.15,
  0.1,0.25,0.25,0.2,0.22,0,0.18,0.05,0.02,null,-0.15,
  0.18,-0.05,-0.12,0,0.12,0.26,-0.15,0,-0.2,-0.55,-0.1,
  -0.08,-0.22,0.11,0.3,0.15,-0.15,-0.05,-0.1,0,null,-0.15];
const redCa = [0.65,0.25,0.15,0,0.1,0.59,0.1,-0.1,0.3,0,0.45,
  0.2,0.58,0.08,0.47,-0.1,0.44,0.1,-0.02,null,null,-0.04,
  null,-0.07,0.07,0.04,0.04,0,-0.1,0,0.07,-0.15,-0.07,
  -0.2,-0.37,-0.12,0,0.09,0,-0.15,-0.18,-0.1,null,0.03];
const redSc = [1,0.65,0.6,0.25,0.2,1.02,0.3,0.15,0.35,0.95,0.58,
  0.45,1.02,0.95,0.15,0.35,0.75,0.9,1.05,null,null,-0.1,
  null,0.05,0.3,0.35,0.05,0.58,-0.15,0.27,0.05,-0.43,0.2,
  -0.4,0,0.1,-0.15,0.35,0.57,0.15,-0.1,0.05,null,0.16];
const redTi = [0.57,0.28,0.2,0.23,0.38,0.2,0.28,0.2,0.23,0.35,0.28,
  0.2,0.3,-0.02,0.35,0.46,0.53,0.28,0.18,null,null,0.12,
  null,0.05,-0.13,0.16,0.12,0.16,0.05,0.2,0.1,-0.2,0.16,
  -0.17,-0.46,0.12,0.2,0,0.12,0.13,0.08,0,null,0.13];
const redV = [0.43,0.12,0.05,0.23,0.16,-0.02,0.16,0.29,0.16,0.16,0.2,
  0.13,-0.02,0.05,-0.05,0.1,0.27,0.53,0.28,null,null,-0.58,
  0.2,-0.32,-0.13,0.16,0.09,0.13,0.16,0.05,0.5,0.42,0.27,
  -0.28,-0.43,0.13,0.16,0.16,0.23,0.27,0.1,0.05,null,-0.08];
const redCr = [0.46,0.2,0.35,0.38,0.3,0.28,0.25,0.28,0.25,0.35,0.16,
  0.3,0.16,-0.06,0.3,0.2,0.6,0.35,0.25,null,null,-0.17,
  null,0.2,-0.15,0.12,0.12,-0.1,0.16,-0.4,-0.32,0.35,-0.1,
  -0.33,0,0.09,0.05,-0.2,0,0.02,-0.05,0,null,-0.13];
const redMn = [0.64,0.15,-0.06,-0.32,0.1,0.22,0.52,0.22,0.1,0.15,0.06,
  -0.01,0.49,-0.25,0.47,0.05,-0.08,null,null,null,null,-0.51,
  0,-0.55,-0.5,-0.27,0.25,-0.64,0.32,-0.08,-0.4,-0.8,-0.49,
  0.1,-0.55,-0.7,0.07,-0.55,0,-0.74,-0.3,-0.2,null,-0.51];
const redFe = [0.55,0.1,-0.08,0.15,0.06,0.2,0.25,0.1,0.03,0.14,0.14,
  0.05,0.25,0.04,0.03,0.2,0.38,0.25,0.1,null,null,-0.3,
  null,-0.07,-0.12,-0.1,-0.12,-0.1,-0.12,-0.27,-0.08,-0.15,-0.45,
  -0.25,-0.45,-0.6,-0.15,-0.05,-0.41,-0.2,0,-0.12,null,-0.19];
const redCo = [0.49,0.32,0.22,0.27,0.18,0.29,0.22,0.25,0.28,0.22,0.2,
  0.25,0.08,0.1,0.22,0.2,0.47,0.22,0.18,null,null,0.18,
  0.18,0.47,-0.01,0.25,0.29,-0.08,0.18,0.32,0.1,0.55,0.03,
  -0.1,-0.23,0.18,0.22,0.2,0.22,0.28,0.15,0.2,null,0.14];
const redNi = [0.38,0.14,0.12,0.1,0.07,0.23,0.14,0.1,0.1,0,0.05,
  -0.08,0.1,0.14,0.07,0.22,0.25,null,null,null,null,-0.12,
  0,-0.02,-0.23,-0.12,0.01,-0.08,-0.15,-0.08,-0.12,-0.23,-0.38,
  0,-0.12,-0.18,-0.08,-0.12,-0.1,-0.15,-0.08,-0.12,null,-0.2];
const redCu = [0.35,0.13,0.05,-0.06,0.2,-0.02,0.18,0.3,-0.06,0.4,0.15,
  -0.06,0.16,-0.5,0,-0.1,0.33,-0.24,-0.39,0.4,null,-0.41,
  0.05,0.29,-0.1,0.29,0.16,0.46,0.27,0.72,0.16,0.16,0.64,
  -0.2,-0.35,0.13,-0.17,0,-0.05,0.13,0.05,-0.1,null,-0.1];
const redZn = [0.24,0.13,-0.06,0.05,-0.1,-0.15,0.18,-0.13,-0.17,-0.06,-0.17,
  -0.27,-0.1,0.1,-0.13,-0.25,-0.24,-0.1,null,null,null,-0.24,
  null,-0.42,-0.38,-0.38,-0.2,-0.42,-0.35,0.03,-0.46,-0.32,-0.57,
  -0.83,-1.03,-0.43,-0.19,0.05,-0.46,-0.57,-0.35,-0.3,null,-0.28];
const redSr = [0.3,0.12,0.68,0.12,0.1,0.16,0.6,0.27,0.09,0.13,0.15,
  0.6,0.13,0.57,0.05,0.75,0.57,0.13,0.05,null,null,0.16,
  0.3,0.42,0.24,0.38,0,0.09,0.24,0.31,-0.06,0.27,0.05,
  -0.2,1.01,-0.15,0.09,0.05,0.09,0.05,0.24,0.31,null,0.1];
const redY = [0.46,0.4,0.42,0.3,0.27,0.25,0.3,0.24,0.36,0.49,0.3,
  0.55,0.25,0.2,0,0.2,0.5,0.2,null,null,null,0.2,
  0.25,0.18,0.1,0.24,0,0.2,0.15,0.24,-0.5,0.09,-0.21,
  0.3,-0.61,0.15,0.3,0.24,-0.1,0.25,0.1,0.2,null,-0.1];
const redZr = [0.52,0.45,0.77,0.4,0.3,0.4,0.77,0.63,0.45,0.53,0.3,
  0.3,0.4,0.11,0,0.09,0.11,0.55,0.11,null,null,0.55,
  0.59,0.52,0.37,0.04,0.53,0.15,0.41,0.74,0.52,0.59,0.41,
  0.37,0.04,0.5,0.55,0.02,0.3,0.53,0.3,0.4,null,0.07];
const redBa = [0.07,0,-0.06,0,0.31,-0.7,0.09,0.63,0.41,0.63,0.48,
  -0.06,0.07,-0.07,0.33,0.28,-0.15,0,0.72,null,null,0.92,
  null,0.48,-0.28,-0.35,0,0.66,0.07,-0.26,0.66,0.92,0.07,
  0.4,-0.15,-0.15,0.44,0.52,-0.87,0.68,0.05,1.05,null,-0.11];
const redLa = [0.04,0.14,0.58,0.08,0.08,0.04,0.15,0.18,0.14,0.11,0.15,
  0.1,0.08,0.35,0.04,0.33,0.35,null,null,null,null,0.15,
  0.18,0.11,0.15,0.18,0.15,0.41,0.22,0.18,0.3,0.41,0.11,
  0.18,0.26,0.33,0.11,0.22,0.15,0.2,0.11,0.25,null,0.18];
const redCe = [0.04,-0.04,0.11,0.15,0.31,0.41,-0.31,0.11,0.07,-0.04,0.11,
  0.31,0.15,-0.15,0,0.11,0.11,null,null,null,null,null,
  0.31,-0.07,-0.26,-0.38,0.11,-0.04,0.07,0.18,0.41,-0.59,0.37,
  -0.11,0.04,-0.41,0.3,0.18,0.07,0,0.18,0.11,null,-0.41];
const redPr = [null,-0.65,null,-0.55,null,null,null,-0.58,null,-0.48,null,
  -0.49,null,-0.52,-0.5,-0.28,-0.45,-0.33,-0.63,null,null,null,
  null,-0.33,0,-0.37,-0.6,null,null,null,-0.34,-0.54,-0.17,
  -0.39,-0.62,-0.32,-0.32,null,-0.32,-0.24,null,null,null,-0.66];
const redNd = [0.05,0.15,-0.07,0.27,0.15,-0.12,0.09,0.01,-0.02,-0.22,-0.19,
  0.18,0.24,0.05,0.01,0.07,-0.06,-0.04,0.53,null,null,-0.1,
  0.1,-0.13,-0.41,0.09,0.07,0.03,-0.06,0.15,0.1,-0.13,0.38,
  0.33,-0.6,0.05,0.1,0.15,-0.17,0.05,0,-0.17,null,-0.17];
const redSm = [-0.38,-0.13,0.37,-0.06,-0.41,0.03,-0.19,-0.13,-0.29,0.16,-0.1,
  -0.05,0,-0.1,0.09,-0.06,0.15,0.16,null,null,null,-0.07,
  -0.12,-0.24,-0.29,-0.04,-0.06,0.03,-0.1,-0.07,-0.13,-0.28,-0.49,
  -0.04,-0.5,0.07,-0.13,-0.07,-0.44,0,-0.13,0,null,-0.02];
const redEu = [-0.06,0.57,-0.04,0.12,-0.17,0,-0.06,-0.04,-0.01,0,-0.06,
  -0.24,-0.04,0,-0.1,0.12,0.2,null,null,null,null,null,
  0,-0.24,-0.06,0.03,-0.04,-0.28,0.19,0.05,-0.06,0,-0.06,
  -0.91,-0.04,0.1,-0.49,-0.04,0,0.05,-0.1,0.02,null,-0.02];
const redGd = [0,0.3,0.6,0.04,0.06,-0.05,0.37,0.1,0,0.4,0.22,
  0.4,0.22,0,0.18,0.9,0,0.28,0.22,0.1,0.1,0.22,
  0.1,0.33,0,0.1,0.05,0.1,0.2,0.1,0.29,0.1,0,
  -0.05,-0.13,0.1,-0.27,0.22,0.1,0.04,0.2,0,null,0.04];

const GRAY = [grayC,grayO,grayNa,grayMg,grayAl,graySi,grayS,grayCa,graySc,grayTi,grayV,grayCr,
  grayMn,grayFe,grayCo,grayNi,grayCu,grayZn,graySr,grayY,grayZr,grayBa,grayLa,grayCe,
  grayPr,grayNd,graySm,grayEu,grayGd];
const CORE = [coreC,coreO,coreNa,coreMg,coreAl,coreSi,coreS,coreCa,coreSc,coreTi,coreV,coreCr,
  coreMn,coreFe,coreCo,coreNi,coreCu,coreZn,coreSr,coreY,coreZr,coreBa,coreLa,coreCe,
  corePr,coreNd,coreSm,coreEu,coreGd];
const RED = [redC,redO,redNa,redMg,redAl,redSi,redS,redCa,redSc,redTi,redV,redCr,
  redMn,redFe,redCo,redNi,redCu,redZn,redSr,redY,redZr,redBa,redLa,redCe,
  redPr,redNd,redSm,redEu,redGd];

// ---- layout -------------------------------------------------------------
const config = {
    width: 1817,
    height: 1224,
    left: 118,
    top: 9.3,
    panelW: 421.75,
    panelH: 135.85,
    cols: 4
};

const svg = d3.select('#drawing_region')
    .attr('width', config.width)
    .attr('height', config.height);

const xScale = d3.scaleLinear().domain([2, 19]).range([0, config.panelW]);
const yScale = d3.scaleLinear().domain([-1.5, 1.5]).range([config.panelH, 0]);

const toPoints = (rs, vs) => rs.map((r, k) => ({ r: r, v: vs[k] }))
    .filter(d => d.v !== null && d.v !== undefined);

const minorX = d3.range(3, 19);
const minorY = d3.range(-14, 15).map(d => d / 10);

function drawTicks(g) {
    const h = config.panelH, w = config.panelW;
    const axes = [
        { gen: d3.axisBottom(xScale).tickValues(minorX).tickSize(-5), t: `translate(0,${h})` },
        { gen: d3.axisBottom(xScale).tickValues(X_TICKS).tickSize(-10), t: `translate(0,${h})` },
        { gen: d3.axisTop(xScale).tickValues(minorX).tickSize(-5), t: 'translate(0,0)' },
        { gen: d3.axisTop(xScale).tickValues(X_TICKS).tickSize(-10), t: 'translate(0,0)' },
        { gen: d3.axisLeft(yScale).tickValues(minorY).tickSize(-5), t: 'translate(0,0)' },
        { gen: d3.axisLeft(yScale).tickValues(Y_TICKS).tickSize(-10), t: 'translate(0,0)' },
        { gen: d3.axisRight(yScale).tickValues(minorY).tickSize(-5), t: `translate(${w},0)` },
        { gen: d3.axisRight(yScale).tickValues(Y_TICKS).tickSize(-10), t: `translate(${w},0)` }
    ];
    axes.forEach(a => {
        const ax = g.append('g').attr('transform', a.t).call(a.gen.tickFormat(''));
        ax.select('.domain').remove();
        ax.selectAll('line').attr('stroke', '#000').attr('stroke-width', 1.1);
    });
}

ELEMENTS.forEach((el, i) => {
    const c = i % config.cols, r = Math.floor(i / config.cols);
    const px = config.left + c * config.panelW;
    const py = config.top + r * config.panelH;
    const g = svg.append('g').attr('transform', `translate(${px},${py})`);

    const clipId = 'clip' + i;
    g.append('clipPath').attr('id', clipId)
        .append('rect').attr('width', config.panelW).attr('height', config.panelH);
    const plot = g.append('g').attr('clip-path', `url(#${clipId})`);

    const grayPts = toPoints(GRAY_R, GRAY[i]).concat(toPoints(CORE_R, CORE[i]));
    plot.selectAll('.gray')
        .data(grayPts)
        .enter().append('circle')
        .attr('cx', d => xScale(d.r))
        .attr('cy', d => yScale(d.v))
        .attr('r', 2.8)
        .attr('fill', '#c6c6c6');

    // solar reference
    plot.append('line')
        .attr('x1', xScale(2)).attr('x2', xScale(19))
        .attr('y1', yScale(0)).attr('y2', yScale(0))
        .attr('stroke', '#5236c2')
        .attr('stroke-width', 1.5)
        .attr('stroke-dasharray', '23,24');

    // gradient
    const fit = d3.line().x(d => xScale(d)).y(d => yScale(INTERCEPT[i] + SLOPE[i] * d));
    plot.append('path')
        .attr('d', fit([2, 19]))
        .attr('fill', 'none')
        .attr('stroke', '#000')
        .attr('stroke-width', 1.3);

    plot.selectAll('.red')
        .data(toPoints(RED_R, RED[i]))
        .enter().append('circle')
        .attr('cx', d => xScale(d.r))
        .attr('cy', d => yScale(d.v))
        .attr('r', 2.8)
        .attr('fill', '#d20000');

    drawTicks(g);

    g.append('rect')
        .attr('width', config.panelW).attr('height', config.panelH)
        .attr('fill', 'none').attr('stroke', '#000').attr('stroke-width', 2);

    g.append('text')
        .attr('x', 25).attr('y', 25)
        .style('font-size', '28px')
        .text(el);

    if (c === 0) {
        const yl = g.append('g')
            .call(d3.axisLeft(yScale).tickValues(Y_TICKS).tickSize(0).tickPadding(11)
                .tickFormat(d => d < 0 ? '-' + Math.abs(d) : String(d)));
        yl.select('.domain').remove();
        yl.selectAll('text').style('font-size', '33px')
            .style('font-family', '"Liberation Serif", serif');

        svg.append('text')
            .attr('transform', `translate(53,${py + config.panelH / 2}) rotate(-90)`)
            .attr('text-anchor', 'middle')
            .style('font-size', '34px')
            .text('[X/H]');
    }

    // numbers only under the lowest panel of every column
    if (i + config.cols >= ELEMENTS.length) {
        const xl = g.append('g')
            .attr('transform', `translate(0,${config.panelH})`)
            .call(d3.axisBottom(xScale).tickValues(X_TICKS).tickSize(0).tickPadding(21));
        xl.select('.domain').remove();
        xl.selectAll('text').style('font-size', '34px')
            .style('font-family', '"Liberation Serif", serif');
    }
});

const title = svg.append('text')
    .attr('x', 973).attr('y', 1198)
    .attr('text-anchor', 'middle')
    .style('font-size', '48px');
title.append('tspan').text('R');
title.append('tspan').attr('dy', 10).style('font-size', '33px').text('GC');
title.append('tspan').attr('dy', -10).text(' [Kpc]');
</script>
</body>
</html>
